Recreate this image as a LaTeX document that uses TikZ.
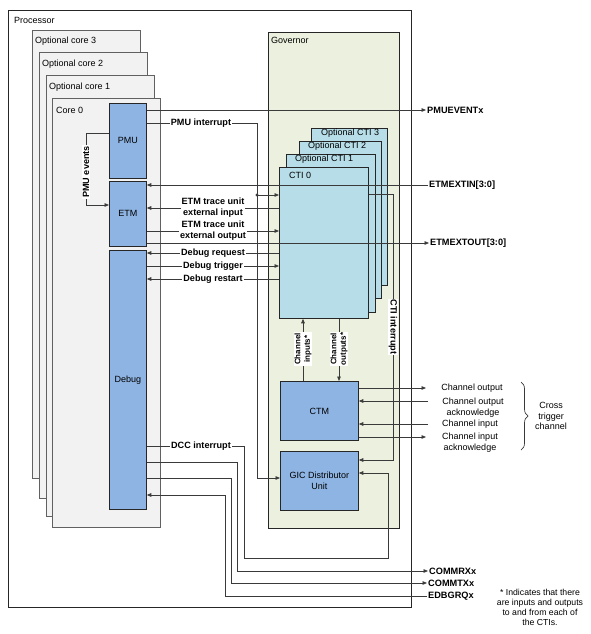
\documentclass[tikz,border=0pt]{standalone}
\usepackage{fontspec}
\setmainfont{Liberation Sans}
\usetikzlibrary{arrows.meta,decorations.pathreplacing}
\definecolor{cBlue}{HTML}{8EB4E3}
\definecolor{cCti}{HTML}{B7DEE8}
\definecolor{cGov}{HTML}{EBF1DE}
\definecolor{cCore}{HTML}{F2F2F2}
\definecolor{cWire}{HTML}{3A3A3A}
\definecolor{cEdge}{HTML}{262626}
\begin{document}
\begin{tikzpicture}[x=1pt,y=-1pt,
  pbox/.style={draw=cEdge, line width=0.8pt, inner sep=0pt, anchor=north west},
  corebox/.style={pbox, draw=black!62, fill=cCore, line width=1.1pt},
  bluebox/.style={pbox, fill=cBlue, align=center, font=\fontsize{9}{11}\selectfont},
  ctibox/.style={pbox, fill=cCti},
  govbox/.style={pbox, fill=cGov},
  boxlabel/.style={anchor=west, inner sep=0pt, font=\fontsize{9}{10.5}\selectfont},
  sig/.style={draw=cWire, line width=0.7pt},
  arr/.style={sig, -{Triangle[length=4.5pt,width=3.6pt]}},
  blbl/.style={fill=white, inner sep=1pt, align=center, font=\bfseries\fontsize{9.1}{11}\selectfont},
  bname/.style={inner sep=1pt, anchor=west, font=\bfseries\fontsize{9.2}{11}\selectfont},
  rlbl/.style={inner sep=1pt, align=center, font=\fontsize{9}{10.8}\selectfont}
]
\useasboundingbox (0,0) rectangle (591,634);

% processor and cores
\node[pbox, draw=cEdge, fill=white, line width=0.9pt, minimum width=403pt, minimum height=597pt] (proc) at (8,10) {};
\node[boxlabel] (procl) at (14,20) {Processor};
\node[corebox, minimum width=108pt, minimum height=448pt] (core3) at (32,30) {};
\node[boxlabel] (core3l) at (35,41) {Optional core 3};
\node[corebox, minimum width=108pt, minimum height=446pt] (core2) at (39,52) {};
\node[boxlabel] (core2l) at (42,64) {Optional core 2};
\node[corebox, minimum width=108pt, minimum height=441pt] (core1) at (46,75) {};
\node[boxlabel] (core1l) at (49,87) {Optional core 1};
\node[corebox, minimum width=108pt, minimum height=429pt] (core0) at (52,98) {};
\node[boxlabel] (core0l) at (56,110) {Core 0};

\node[bluebox, minimum width=37pt, minimum height=75pt] (pmu) at (109,103) {PMU};
\node[bluebox, minimum width=37pt, minimum height=65pt] (etm) at (109,181) {ETM};
\node[bluebox, minimum width=37pt, minimum height=259pt] (debug) at (109,250) {Debug};

% governor
\node[govbox, minimum width=131pt, minimum height=496pt] (gov) at (268,32) {};
\node[boxlabel] (govl) at (271,40) {Governor};
\node[ctibox, minimum width=76pt, minimum height=157pt] (cti3) at (311,128) {};
\node[boxlabel] (cti3l) at (321,133) {Optional CTI 3};
\node[ctibox, minimum width=82pt, minimum height=157pt] (cti2) at (299,141) {};
\node[boxlabel] (cti2l) at (308,146) {Optional CTI 2};
\node[ctibox, minimum width=89pt, minimum height=158pt] (cti1) at (286,154) {};
\node[boxlabel] (cti1l) at (295,159) {Optional CTI 1};
\node[ctibox, minimum width=89pt, minimum height=151pt] (cti0) at (279,167) {};
\node[boxlabel] (cti0l) at (289,175) {CTI 0};
\node[bluebox, minimum width=78pt, minimum height=59pt] (ctm) at (280,381) {CTM};
\node[bluebox, minimum width=78pt, minimum height=59pt] (gic) at (280,451) {GIC Distributor\\Unit};

% right-hand signal names
\node[bname] (pmuevl) at (426,110) {PMUEVENTx};
\node[bname] (etminl) at (428,185) {ETMEXTIN[3:0]};
\node[bname] (etmoutl) at (429,243) {ETMEXTOUT[3:0]};
\node[bname] (commrxl) at (428,571) {COMMRXx};
\node[bname] (commtxl) at (427,583) {COMMTXx};
\node[bname] (edbgl) at (427,596) {EDBGRQx};

% PMU interrupt
\coordinate (pmuj) at (257,195);
\draw[arr] (pmu.east |- 0,123) -- (257,123) -- (257,478) -- (gic.west |- 0,478);
\fill[cWire] (pmuj) circle (1.7pt);
\draw[arr] (pmuj) -- (cti0.west |- pmuj);
\node[blbl] (pmuintl) at (201,123) {PMU interrupt};

% PMU events
\draw[arr] (pmu.west |- 0,133) -- (86,133) -- (86,205) -- (etm.west |- 0,205);
\node[blbl, rotate=90] (pmuevtl) at (86,172) {PMU events};

% ETM trace unit external input / output
\draw[arr] (cti0.west |- 0,208) -- (etm.east |- 0,208);
\draw[arr] (etm.east |- 0,231) -- (cti0.west |- 0,231);
\node[blbl] (etinl) at (213,207.5) {ETM trace unit\\external input};
\node[blbl] (etoutl) at (213,230.5) {ETM trace unit\\external output};

% debug signals
\draw[arr] (cti0.west |- 0,253) -- (debug.east |- 0,253);
\draw[arr] (debug.east |- 0,266) -- (cti0.west |- 0,266);
\draw[arr] (cti0.west |- 0,279) -- (debug.east |- 0,279);
\node[blbl] (dreql) at (213,253) {Debug request};
\node[blbl] (dtrgl) at (213,266) {Debug trigger};
\node[blbl] (drstl) at (213,279) {Debug restart};

% long lines on top
\draw[arr] (pmu.east |- pmuevl.west) -- (pmuevl.west);
\draw[arr] (etminl.west) -- (etm.east |- etminl.west);
\draw[arr] (etm.east |- etmoutl.west) -- (etmoutl.west);

% CTI interrupt
\draw[arr] (cti0.east |- 0,194) -- (393,194) -- (393,460) -- (gic.east |- 0,460);
\node[blbl, rotate=-90] (ctiintl) at (393,327) {CTI interrupt};

% channel inputs / outputs
\draw[arr] (ctm.north -| 303,0) -- (cti0.south -| 303,0);
\draw[arr] (cti0.south -| 339,0) -- (ctm.north -| 339,0);
\node[blbl, rotate=90, font=\bfseries\fontsize{8}{9.5}\selectfont] (chinl) at (303,349) {Channel\\inputs*};
\node[blbl, rotate=90, font=\bfseries\fontsize{8}{9.5}\selectfont] (choutl) at (339,349) {Channel\\outputs*};

% cross trigger channel
\coordinate (co) at (426,388);
\coordinate (coa) at (428,401);
\coordinate (ci) at (428,424);
\coordinate (cia) at (426,437);
\draw[arr] (ctm.east |- co) -- (co);
\draw[arr] (coa) -- (ctm.east |- coa);
\draw[arr] (ci) -- (ctm.east |- ci);
\draw[arr] (ctm.east |- cia) -- (cia);
\node[rlbl] (col) at (472,388) {Channel output};
\node[rlbl] (coal) at (473,407.5) {Channel output\\acknowledge};
\node[rlbl] (cil) at (470,424) {Channel input};
\node[rlbl] (cial) at (470,443) {Channel input\\acknowledge};
\coordinate (brt) at (521,382);
\coordinate (brb) at (521,450);
\draw[sig, decorate, decoration={brace, amplitude=7pt}] (brt) -- (brb);
\node[rlbl] (ctcl) at (551,416) {Cross\\trigger\\channel};

% debug communication lines
\draw[arr] (debug.east |- 0,446) -- (244,446) -- (244,558) -- (388,558) -- (388,473) -- (gic.east |- 0,473);
\node[blbl] (dccl) at (201,446) {DCC interrupt};
\draw[arr] (debug.east |- 0,462) -- (237,462) -- (237,571) -- (commrxl.west);
\draw[arr] (debug.east |- 0,478) -- (231,478) -- (231,583) -- (commtxl.west);
\draw[arr] (edbgl.west) -- (225,596) -- (225,495) -- (debug.east |- 0,495);

% footnote
\node[rlbl, font=\fontsize{8.7}{10}\selectfont] (note) at (540,607) {* Indicates that there\\are inputs and outputs\\to and from each of\\the CTIs.};
\end{tikzpicture}
\end{document}
